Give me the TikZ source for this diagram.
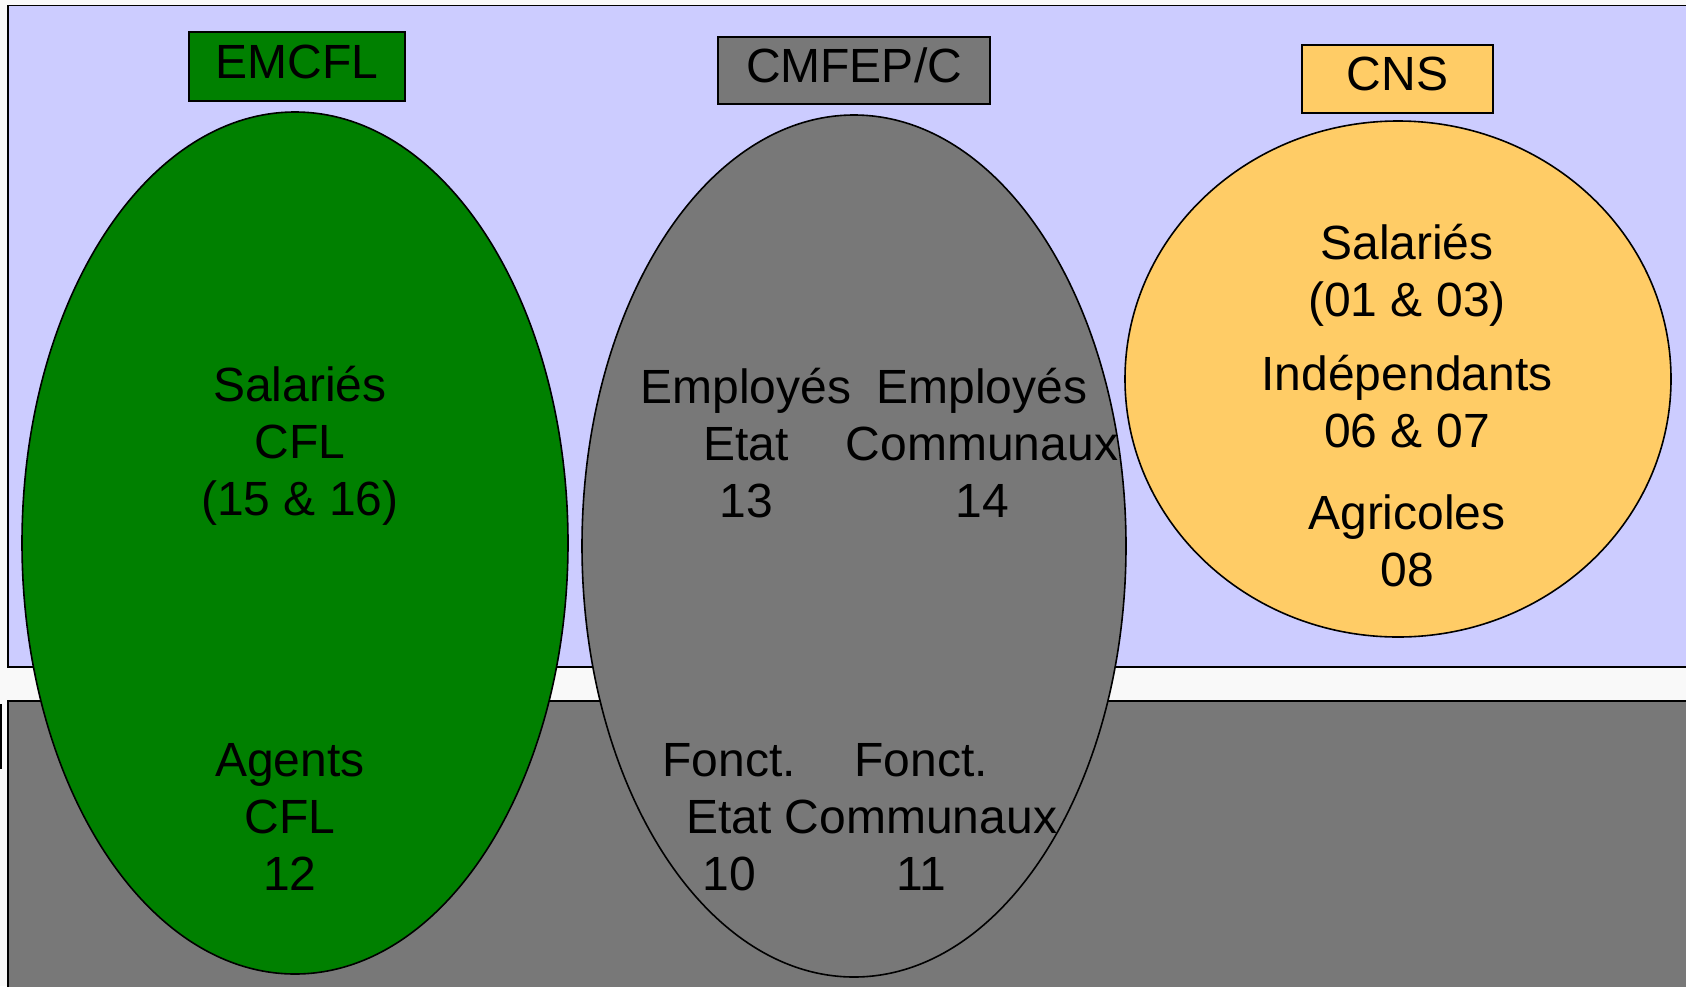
\documentclass[tikz,border=0pt]{standalone}
\usepackage{fontspec}
\setmainfont{Liberation Sans}
\usepackage{tikz}
\usetikzlibrary{shapes.geometric}

\definecolor{pagebg}{RGB}{249,249,249}
\definecolor{lavender}{RGB}{204,204,255}
\definecolor{cflgreen}{RGB}{0,128,0}
\definecolor{midgray}{RGB}{120,120,120}
\definecolor{cnsyellow}{RGB}{255,204,102}

\begin{document}
\begin{tikzpicture}[x=0.5pt, y=-0.5pt,
  every node/.style={font=\fontsize{24}{28.5}\selectfont},
  bubble/.style={ellipse, draw, line width=0.8pt, inner sep=0pt},
  tag/.style={rectangle, draw, line width=0.8pt, inner sep=0pt, text height=17.2pt, text depth=5.5pt},
  txt/.style={align=center, inner sep=0pt}]

  \clip (0,0) rectangle (1686,986);
  \fill[pagebg] (0,0) rectangle (1686,986);

  % bands
  \filldraw[fill=lavender, line width=0.8pt] (8,5.5) rectangle (1720,667);
  \filldraw[fill=midgray, line width=0.8pt] (8,701) rectangle (1720,1020);
  \draw[line width=0.8pt] (1,704) -- (1,769);

  % the three bubbles
  \node[bubble, fill=cflgreen, minimum width=273pt, minimum height=431pt] (emcfl) at (295,543) {};
  \node[bubble, fill=midgray, minimum width=272pt, minimum height=431pt] (cmfep) at (854,546) {};
  \node[bubble, fill=cnsyellow, minimum width=273pt, minimum height=258pt] (cns) at (1398,379) {};

  % titles
  \node[tag, fill=cflgreen, minimum width=108pt, minimum height=34.5pt] (emcfltag) at (297,66.5) {EMCFL};
  \node[tag, fill=midgray, minimum width=136pt, minimum height=33.5pt] (cmfeptag) at (854,70.5) {CMFEP/C};
  \node[tag, fill=cnsyellow, minimum width=95.5pt, minimum height=34pt] (cnstag) at (1397.5,79) {CNS};

  % EMCFL
  \node[txt] (salcfl) at (300,446) {Salariés\\CFL\\(15 \& 16)};
  \node[txt] (agcfl) at (290,817) {Agents\\CFL\\12};

  % CMFEP/C
  \node[txt] (empetat) at (746,443) {Employés\\Etat\\13};
  \node[txt] (empcom) at (982,443) {Employés\\Communaux\\14};
  \node[txt] (foncetat) at (729,817) {Fonct.\\Etat\\10};
  \node[txt] (fonccom) at (921,817) {Fonct.\\Communaux\\11};

  % CNS
  \node[txt] (salcns) at (1407,275) {Salariés\\(01 \& 03)};
  \node[txt] (indep) at (1407,402) {Indépendants\\06 \& 07};
  \node[txt] (agri) at (1407,541) {Agricoles\\08};
\end{tikzpicture}
\end{document}
